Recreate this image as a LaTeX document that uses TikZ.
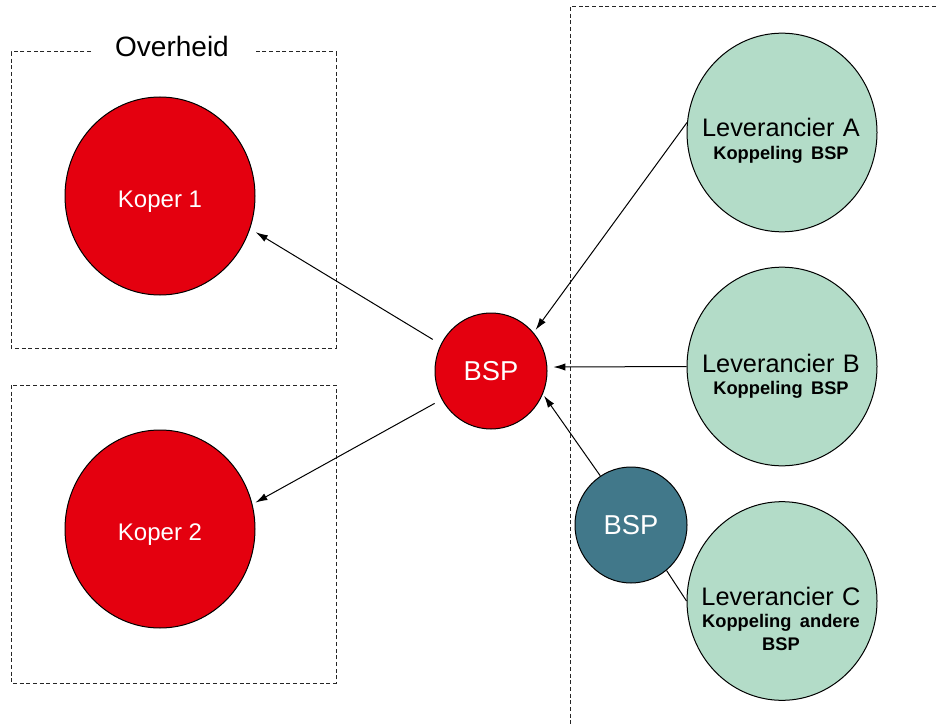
\documentclass[tikz,border=0pt]{standalone}
\usepackage{fontspec}
\setmainfont{Liberation Sans}
\usetikzlibrary{shapes.geometric,arrows.meta}
\definecolor{bspred}{RGB}{228,0,15}
\definecolor{bspteal}{RGB}{65,120,138}
\definecolor{levgreen}{RGB}{179,220,200}
\begin{document}
\begin{tikzpicture}[x=0.75pt,y=-0.75pt,
    box/.style={draw=black!85,line width=0.75pt,dash pattern=on 3pt off 2pt},
    koper/.style={ellipse,draw,line width=0.75pt,fill=bspred,text=white,inner sep=0pt,
        minimum width=142.5pt,minimum height=148.5pt,text height=17.5pt,text depth=0pt,
        font=\fontsize{18}{21}\selectfont},
    bspnode/.style={ellipse,draw,line width=0.75pt,text=white,inner sep=0pt,
        minimum width=84pt,minimum height=87pt,font=\fontsize{20.5}{24}\selectfont},
    lev/.style={ellipse,draw,line width=0.75pt,fill=levgreen,inner sep=0pt,
        minimum width=142.5pt,minimum height=149pt},
    levtext/.style={anchor=base,text width=150pt,align=center,inner sep=0pt,
        font=\fontsize{19}{16.9}\selectfont},
    link/.style={line width=0.75pt}]
    \tikzset{>={Latex[length=9pt,width=5.5pt]}}
    \useasboundingbox (0,0) rectangle (938,727);
    % kaders
    \draw[box] (91,52) -- (11,52) -- (11,348) -- (336,348) -- (336,52) -- (256,52);
    \node[anchor=base,font=\fontsize{21}{25}\selectfont] (overheid) at (172,57) {Overheid};
    \draw[box] (11,385) rectangle (336,683);
    \draw[box] (570,7) rectangle (960,760);
    % kopers en BSP
    \node[koper] (koper1) at (160,196) {Koper 1};
    \node[koper] (koper2) at (160,529) {Koper 2};
    \node[bspnode,fill=bspred] (bsp) at (491,371) {BSP};
    \node[bspnode,fill=bspteal] (bspC) at (631,525) {BSP};
    % leveranciers
    \node[lev] (levA) at (782,132.5) {};
    \node[lev] (levB) at (782,366.5) {};
    \node[lev] (levC) at (782,601) {};
    \node[levtext] (levAtxt) at (781,137) {Leverancier A\\{\fontsize{13.7}{16.9}\selectfont\bfseries Koppeling BSP}};
    \node[levtext] (levBtxt) at (781,372) {Leverancier B\\{\fontsize{13.7}{16.9}\selectfont\bfseries Koppeling BSP}};
    \node[levtext] (levCtxt) at (781,605) {Leverancier C\\{\fontsize{13.7}{16.9}\selectfont\bfseries Koppeling andere\\BSP}};
    % verbindingen
    \draw[link,->,shorten <=7pt,shorten >=5pt] (bsp.152) -- (koper1.-20);
    \draw[link,->,shorten <=6pt,shorten >=2.5pt] (bsp.210) -- (koper2.15);
    \draw[link,->,shorten >=2.5pt] (levA.174) -- (bsp.42);
    \draw[link,->,shorten >=4.5pt] (levB.west) -- (bsp.4);
    \draw[link,->,shorten >=1.5pt] (bspC.122) -- (bsp.-24);
    \draw[link] (bspC.-52) -- (levC.west);
\end{tikzpicture}
\end{document}
